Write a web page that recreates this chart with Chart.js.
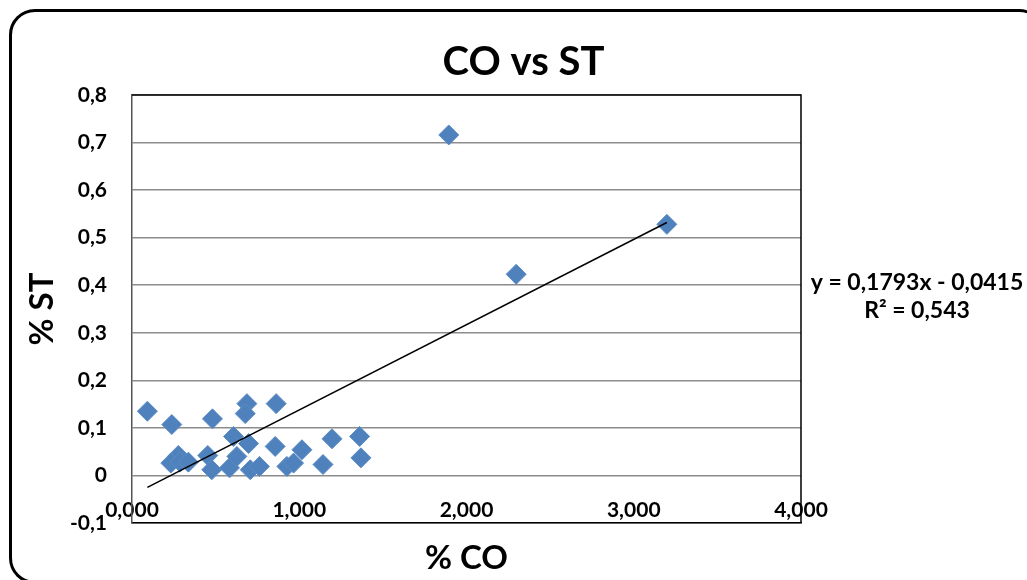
<!DOCTYPE html>
<html>
<head>
<meta charset="utf-8">
<script src="https://cdn.jsdelivr.net/npm/chart.js@4"></script>
<style>
    html, body { margin: 0; padding: 0; background: #fff; overflow: hidden; }
    #wrap { position: relative; width: 1027px; height: 580px; overflow: hidden; }
    #frame {
        position: absolute; left: 9px; top: 9px; width: 1030px; height: 569px;
        border: 3px solid #000; border-radius: 26px; pointer-events: none;
    }
    canvas { position: absolute; left: 0; top: 0; }
</style>
</head>
<body>
<div id="wrap">
    <canvas id="chart" width="1027" height="580"></canvas>
    <div id="frame"></div>
</div>
<script>
// % CO values (x) and % ST values (y)
const coValues = [0.092, 0.238, 0.277, 0.232, 0.287, 0.337, 0.481, 0.453, 0.477, 0.607,
                  0.583, 0.627, 0.687, 0.677, 0.697, 0.707, 0.762, 0.862, 0.856, 1.016,
                  0.926, 0.966, 1.196, 1.142, 1.361, 1.369, 1.894, 2.297, 3.198];
const stValues = [0.135, 0.107, 0.042, 0.026, 0.028, 0.028, 0.119, 0.042, 0.012, 0.082,
                  0.016, 0.040, 0.151, 0.130, 0.067, 0.012, 0.019, 0.151, 0.061, 0.054,
                  0.019, 0.026, 0.077, 0.023, 0.082, 0.037, 0.716, 0.423, 0.528];

// linear trend shown on the chart
const trendSlope = 0.1793;
const trendIntercept = -0.0415;
const trendLabels = ['y = 0,1793x - 0,0415', 'R² = 0,543'];
const chartTitle = 'CO vs ST';

const xTicks = [0, 1, 2, 3, 4];
const yTicks = [-0.1, 0, 0.1, 0.2, 0.3, 0.4, 0.5, 0.6, 0.7, 0.8];

const FONT = 'Lato, "Open Sans", sans-serif';

const points = coValues.map((x, i) => ({ x: x, y: stValues[i] }));
const xMin = Math.min(...coValues);
const xMax = Math.max(...coValues);
const trendPoints = [xMin, xMax].map(x => ({ x: x, y: trendSlope * x + trendIntercept }));

// title, frame around plot and equation text
const plotDecor = {
    id: 'plotDecor',
    afterDraw(chart) {
        const { ctx, chartArea } = chart;
        ctx.save();
        ctx.strokeStyle = '#000';
        ctx.lineWidth = 1.5;
        ctx.beginPath();
        ctx.moveTo(chartArea.left, chartArea.top);
        ctx.lineTo(chartArea.right, chartArea.top);
        ctx.lineTo(chartArea.right, chartArea.bottom);
        ctx.stroke();

        ctx.fillStyle = '#000';
        ctx.textAlign = 'center';
        ctx.textBaseline = 'middle';

        ctx.font = 'bold 40px ' + FONT;
        ctx.fillText(chartTitle, chart.width / 2 + 10, chartArea.top - 33);

        ctx.font = 'bold 23px ' + FONT;
        const cx = chartArea.right + 116;
        const y0 = chart.scales.y.getPixelForValue(0.4);
        ctx.fillText(trendLabels[0], cx, y0 - 3);
        ctx.fillText(trendLabels[1], cx, y0 + 25);
        ctx.restore();
    }
};

new Chart(document.getElementById('chart'), {
    type: 'scatter',
    data: {
        datasets: [
            {
                label: 'CO vs ST',
                data: points,
                pointStyle: 'rectRot',
                pointRadius: 10,
                pointHoverRadius: 10,
                backgroundColor: '#4F81BD',
                borderColor: '#5B8CC6',
                borderWidth: 1,
                order: 2
            },
            {
                type: 'line',
                label: 'Lineal',
                data: trendPoints,
                borderColor: '#000',
                borderWidth: 1.5,
                pointRadius: 0,
                fill: false,
                order: 1
            }
        ]
    },
    options: {
        responsive: false,
        animation: false,
        layout: { padding: { left: 10, right: 226, top: 95, bottom: 0 } },
        plugins: {
            legend: { display: false },
            tooltip: { enabled: false },
            title: { display: false }
        },
        scales: {
            x: {
                type: 'linear',
                min: 0,
                max: 4,
                afterBuildTicks: s => { s.ticks = xTicks.map(v => ({ value: v })); },
                afterFit: s => { s.height = 57; },
                grid: { display: false, drawTicks: false },
                border: { display: true, color: '#000', width: 1.5 },
                ticks: {
                    color: '#000',
                    mirror: true,
                    padding: 0,
                    maxRotation: 0,
                    autoSkip: false,
                    font: { family: FONT, size: 21, weight: 'bold' },
                    callback: v => v.toFixed(3).replace('.', ',')
                },
                title: {
                    display: true,
                    text: '% CO',
                    color: '#000',
                    font: { family: FONT, size: 33, weight: 'bold' },
                    padding: { top: 0, bottom: 2 }
                }
            },
            y: {
                min: -0.1,
                max: 0.8,
                afterBuildTicks: s => { s.ticks = yTicks.map(v => ({ value: v })); },
                afterFit: s => { s.width = 122; },
                grid: { color: '#8c8c8c', lineWidth: 1.5, drawTicks: false },
                border: { display: true, color: '#555', width: 1.5 },
                ticks: {
                    color: '#000',
                    padding: 25,
                    font: { family: FONT, size: 21, weight: 'bold' },
                    callback: v => {
                        const r = Math.round(v * 10) / 10;
                        return r === 0 ? '0' : r.toFixed(1).replace('.', ',');
                    }
                },
                title: {
                    display: true,
                    text: '% ST',
                    color: '#000',
                    font: { family: FONT, size: 33, weight: 'bold' },
                    padding: 13
                }
            }
        }
    },
    plugins: [plotDecor]
});
</script>
</body>
</html>
